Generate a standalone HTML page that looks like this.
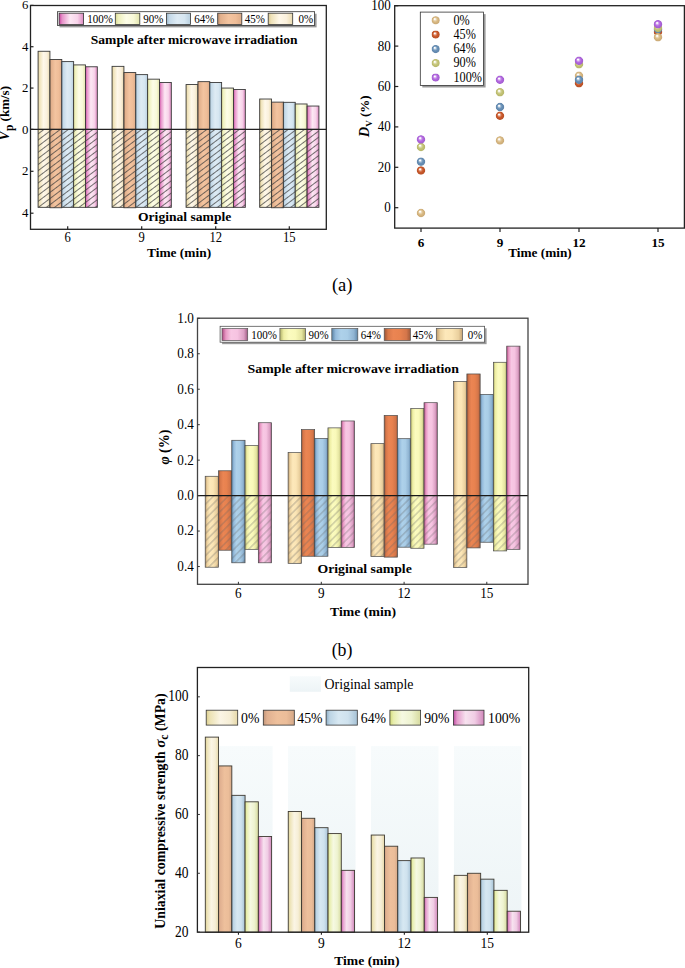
<!DOCTYPE html>
<html><head><meta charset="utf-8"><title>Figure</title>
<style>
html,body{margin:0;padding:0;background:#fff;}
body{width:685px;height:968px;overflow:hidden;}
svg{display:block;font-family:"Liberation Serif", serif;}
</style></head><body>
<svg width="685" height="968" viewBox="0 0 685 968">
<defs><linearGradient id="p0" x1="0" y1="0" x2="1" y2="0"><stop offset="0" stop-color="#dcc88e"/><stop offset="0.12" stop-color="#efe2b8"/><stop offset="0.45" stop-color="#fff8ea"/><stop offset="0.75" stop-color="#faf0dc"/><stop offset="1" stop-color="#eadaae"/></linearGradient>
<linearGradient id="p45" x1="0" y1="0" x2="1" y2="0"><stop offset="0" stop-color="#b88a68"/><stop offset="0.12" stop-color="#e2b08c"/><stop offset="0.45" stop-color="#f3c4a0"/><stop offset="0.75" stop-color="#efbd98"/><stop offset="1" stop-color="#dcab88"/></linearGradient>
<linearGradient id="p64" x1="0" y1="0" x2="1" y2="0"><stop offset="0" stop-color="#98b4c8"/><stop offset="0.12" stop-color="#c4d9e8"/><stop offset="0.45" stop-color="#deebf4"/><stop offset="0.75" stop-color="#d6e6f1"/><stop offset="1" stop-color="#b8cfdf"/></linearGradient>
<linearGradient id="p90" x1="0" y1="0" x2="1" y2="0"><stop offset="0" stop-color="#d6d890"/><stop offset="0.12" stop-color="#eef0bc"/><stop offset="0.45" stop-color="#fdfde8"/><stop offset="0.75" stop-color="#f8f9d8"/><stop offset="1" stop-color="#e2e4ac"/></linearGradient>
<linearGradient id="p100" x1="0" y1="0" x2="1" y2="0"><stop offset="0" stop-color="#c8409c"/><stop offset="0.12" stop-color="#e690c8"/><stop offset="0.45" stop-color="#fde8f4"/><stop offset="0.75" stop-color="#f8d4ea"/><stop offset="1" stop-color="#dc88c0"/></linearGradient>
<linearGradient id="b0" x1="0" y1="0" x2="1" y2="0"><stop offset="0" stop-color="#bc9868"/><stop offset="0.15" stop-color="#ecd2a0"/><stop offset="0.35" stop-color="#fde8ba"/><stop offset="0.6" stop-color="#fbe5b5"/><stop offset="0.85" stop-color="#ead09e"/><stop offset="1" stop-color="#c4a274"/></linearGradient>
<linearGradient id="b45" x1="0" y1="0" x2="1" y2="0"><stop offset="0" stop-color="#985438"/><stop offset="0.15" stop-color="#d8784a"/><stop offset="0.35" stop-color="#eb8553"/><stop offset="0.6" stop-color="#e8824f"/><stop offset="0.85" stop-color="#d4764a"/><stop offset="1" stop-color="#a05a3a"/></linearGradient>
<linearGradient id="b64" x1="0" y1="0" x2="1" y2="0"><stop offset="0" stop-color="#5c84a6"/><stop offset="0.15" stop-color="#94badb"/><stop offset="0.35" stop-color="#aed1ea"/><stop offset="0.6" stop-color="#a9cde7"/><stop offset="0.85" stop-color="#90b4d2"/><stop offset="1" stop-color="#6088aa"/></linearGradient>
<linearGradient id="b90" x1="0" y1="0" x2="1" y2="0"><stop offset="0" stop-color="#b0b068"/><stop offset="0.15" stop-color="#eeeea4"/><stop offset="0.35" stop-color="#fbfbbf"/><stop offset="0.6" stop-color="#f9f9b9"/><stop offset="0.85" stop-color="#e4e4a0"/><stop offset="1" stop-color="#aca866"/></linearGradient>
<linearGradient id="b100" x1="0" y1="0" x2="1" y2="0"><stop offset="0" stop-color="#ac4880"/><stop offset="0.15" stop-color="#e898c4"/><stop offset="0.35" stop-color="#f8c8e4"/><stop offset="0.6" stop-color="#f6c3e1"/><stop offset="0.85" stop-color="#dca0c4"/><stop offset="1" stop-color="#9e5a82"/></linearGradient>
<linearGradient id="c0" x1="0" y1="0" x2="1" y2="0"><stop offset="0" stop-color="#dccf8e"/><stop offset="0.12" stop-color="#ece2b4"/><stop offset="0.45" stop-color="#fbf5e5"/><stop offset="0.75" stop-color="#f6eed6"/><stop offset="1" stop-color="#e6d8a8"/></linearGradient>
<linearGradient id="c45" x1="0" y1="0" x2="1" y2="0"><stop offset="0" stop-color="#c09478"/><stop offset="0.12" stop-color="#e0b090"/><stop offset="0.45" stop-color="#eec09c"/><stop offset="0.75" stop-color="#ebbd99"/><stop offset="1" stop-color="#d4a888"/></linearGradient>
<linearGradient id="c64" x1="0" y1="0" x2="1" y2="0"><stop offset="0" stop-color="#8eaec6"/><stop offset="0.12" stop-color="#bcd4e4"/><stop offset="0.4" stop-color="#d7e8f2"/><stop offset="0.7" stop-color="#cfe2ee"/><stop offset="1" stop-color="#a6c2d6"/></linearGradient>
<linearGradient id="c90" x1="0" y1="0" x2="1" y2="0"><stop offset="0" stop-color="#d4dc7c"/><stop offset="0.12" stop-color="#e8eeae"/><stop offset="0.4" stop-color="#f6f9e2"/><stop offset="0.7" stop-color="#eef3d0"/><stop offset="1" stop-color="#d6da9e"/></linearGradient>
<linearGradient id="c100" x1="0" y1="0" x2="1" y2="0"><stop offset="0" stop-color="#bc48a0"/><stop offset="0.12" stop-color="#e49ccc"/><stop offset="0.4" stop-color="#f7e2ef"/><stop offset="0.7" stop-color="#f0cce4"/><stop offset="1" stop-color="#d086ba"/></linearGradient>
<radialGradient id="s0" cx="0.5" cy="0.5" r="0.5" fx="0.37" fy="0.32"><stop offset="0" stop-color="#ffffff"/><stop offset="0.12" stop-color="#ffffff"/><stop offset="0.3" stop-color="#ebdabc"/><stop offset="0.55" stop-color="#dbbc86"/><stop offset="0.9" stop-color="#ccab76"/><stop offset="1" stop-color="#c2a06b" stop-opacity="0.5"/></radialGradient>
<radialGradient id="s45" cx="0.5" cy="0.5" r="0.5" fx="0.37" fy="0.32"><stop offset="0" stop-color="#ffffff"/><stop offset="0.12" stop-color="#ffffff"/><stop offset="0.3" stop-color="#e3a48b"/><stop offset="0.55" stop-color="#cc5a2c"/><stop offset="0.9" stop-color="#ba5025"/><stop offset="1" stop-color="#ae4920" stop-opacity="0.5"/></radialGradient>
<radialGradient id="s64" cx="0.5" cy="0.5" r="0.5" fx="0.37" fy="0.32"><stop offset="0" stop-color="#ffffff"/><stop offset="0.12" stop-color="#ffffff"/><stop offset="0.3" stop-color="#adc3d8"/><stop offset="0.55" stop-color="#6a92b8"/><stop offset="0.9" stop-color="#5f85ab"/><stop offset="1" stop-color="#577da2" stop-opacity="0.5"/></radialGradient>
<radialGradient id="s90" cx="0.5" cy="0.5" r="0.5" fx="0.37" fy="0.32"><stop offset="0" stop-color="#ffffff"/><stop offset="0.12" stop-color="#ffffff"/><stop offset="0.3" stop-color="#e0e0b6"/><stop offset="0.55" stop-color="#c6c67a"/><stop offset="0.9" stop-color="#b8b86b"/><stop offset="1" stop-color="#afaf61" stop-opacity="0.5"/></radialGradient>
<radialGradient id="s100" cx="0.5" cy="0.5" r="0.5" fx="0.37" fy="0.32"><stop offset="0" stop-color="#ffffff"/><stop offset="0.12" stop-color="#ffffff"/><stop offset="0.3" stop-color="#d6adee"/><stop offset="0.55" stop-color="#b46ae0"/><stop offset="0.9" stop-color="#a45dd2"/><stop offset="1" stop-color="#9a55c8" stop-opacity="0.5"/></radialGradient>
<linearGradient id="obg" x1="0" y1="0" x2="0" y2="1"><stop offset="0" stop-color="#f7fbfc"/><stop offset="1" stop-color="#edf4f6"/></linearGradient>
<pattern id="hatchA" patternUnits="userSpaceOnUse" width="4.9" height="4.9" patternTransform="rotate(53)"><line x1="2.45" y1="0" x2="2.45" y2="4.9" stroke="#3a3a3a" stroke-width="0.7"/></pattern>
<pattern id="hatchB" patternUnits="userSpaceOnUse" width="5.2" height="5.2" patternTransform="rotate(45)"><line x1="2.6" y1="0" x2="2.6" y2="5.2" stroke="#626262" stroke-width="0.45"/></pattern>
<filter id="blur1" x="-10%" y="-10%" width="130%" height="140%"><feGaussianBlur stdDeviation="0.6"/></filter></defs>
<rect width="685" height="968" fill="#fff"/>
<rect x="38.08" y="51.27" width="11.85" height="78.13" fill="url(#p0)" stroke="#3a3a3a" stroke-width="0.9"/>
<rect x="38.08" y="129.4" width="11.85" height="77.93" fill="url(#p0)"/>
<rect x="38.08" y="129.4" width="11.85" height="77.93" fill="url(#hatchA)" stroke="#3a3a3a" stroke-width="0.9"/>
<rect x="49.93" y="59.54" width="11.85" height="69.86" fill="url(#p45)" stroke="#3a3a3a" stroke-width="0.9"/>
<rect x="49.93" y="129.4" width="11.85" height="78.34" fill="url(#p45)"/>
<rect x="49.93" y="129.4" width="11.85" height="78.34" fill="url(#hatchA)" stroke="#3a3a3a" stroke-width="0.9"/>
<rect x="61.78" y="61.6" width="11.85" height="67.8" fill="url(#p64)" stroke="#3a3a3a" stroke-width="0.9"/>
<rect x="61.78" y="129.4" width="11.85" height="77.93" fill="url(#p64)"/>
<rect x="61.78" y="129.4" width="11.85" height="77.93" fill="url(#hatchA)" stroke="#3a3a3a" stroke-width="0.9"/>
<rect x="73.62" y="64.91" width="11.85" height="64.49" fill="url(#p90)" stroke="#3a3a3a" stroke-width="0.9"/>
<rect x="73.62" y="129.4" width="11.85" height="77.93" fill="url(#p90)"/>
<rect x="73.62" y="129.4" width="11.85" height="77.93" fill="url(#hatchA)" stroke="#3a3a3a" stroke-width="0.9"/>
<rect x="85.47" y="66.77" width="11.85" height="62.63" fill="url(#p100)" stroke="#3a3a3a" stroke-width="0.9"/>
<rect x="85.47" y="129.4" width="11.85" height="77.93" fill="url(#p100)"/>
<rect x="85.47" y="129.4" width="11.85" height="77.93" fill="url(#hatchA)" stroke="#3a3a3a" stroke-width="0.9"/>
<rect x="112.07" y="66.36" width="11.85" height="63.04" fill="url(#p0)" stroke="#3a3a3a" stroke-width="0.9"/>
<rect x="112.07" y="129.4" width="11.85" height="77.93" fill="url(#p0)"/>
<rect x="112.07" y="129.4" width="11.85" height="77.93" fill="url(#hatchA)" stroke="#3a3a3a" stroke-width="0.9"/>
<rect x="123.92" y="72.56" width="11.85" height="56.84" fill="url(#p45)" stroke="#3a3a3a" stroke-width="0.9"/>
<rect x="123.92" y="129.4" width="11.85" height="78.34" fill="url(#p45)"/>
<rect x="123.92" y="129.4" width="11.85" height="78.34" fill="url(#hatchA)" stroke="#3a3a3a" stroke-width="0.9"/>
<rect x="135.77" y="74.62" width="11.85" height="54.78" fill="url(#p64)" stroke="#3a3a3a" stroke-width="0.9"/>
<rect x="135.77" y="129.4" width="11.85" height="77.93" fill="url(#p64)"/>
<rect x="135.77" y="129.4" width="11.85" height="77.93" fill="url(#hatchA)" stroke="#3a3a3a" stroke-width="0.9"/>
<rect x="147.62" y="79.17" width="11.85" height="50.23" fill="url(#p90)" stroke="#3a3a3a" stroke-width="0.9"/>
<rect x="147.62" y="129.4" width="11.85" height="77.93" fill="url(#p90)"/>
<rect x="147.62" y="129.4" width="11.85" height="77.93" fill="url(#hatchA)" stroke="#3a3a3a" stroke-width="0.9"/>
<rect x="159.47" y="82.48" width="11.85" height="46.92" fill="url(#p100)" stroke="#3a3a3a" stroke-width="0.9"/>
<rect x="159.47" y="129.4" width="11.85" height="77.93" fill="url(#p100)"/>
<rect x="159.47" y="129.4" width="11.85" height="77.93" fill="url(#hatchA)" stroke="#3a3a3a" stroke-width="0.9"/>
<rect x="186.07" y="84.55" width="11.85" height="44.85" fill="url(#p0)" stroke="#3a3a3a" stroke-width="0.9"/>
<rect x="186.07" y="129.4" width="11.85" height="77.93" fill="url(#p0)"/>
<rect x="186.07" y="129.4" width="11.85" height="77.93" fill="url(#hatchA)" stroke="#3a3a3a" stroke-width="0.9"/>
<rect x="197.92" y="81.65" width="11.85" height="47.75" fill="url(#p45)" stroke="#3a3a3a" stroke-width="0.9"/>
<rect x="197.92" y="129.4" width="11.85" height="78.34" fill="url(#p45)"/>
<rect x="197.92" y="129.4" width="11.85" height="78.34" fill="url(#hatchA)" stroke="#3a3a3a" stroke-width="0.9"/>
<rect x="209.77" y="82.48" width="11.85" height="46.92" fill="url(#p64)" stroke="#3a3a3a" stroke-width="0.9"/>
<rect x="209.77" y="129.4" width="11.85" height="77.93" fill="url(#p64)"/>
<rect x="209.77" y="129.4" width="11.85" height="77.93" fill="url(#hatchA)" stroke="#3a3a3a" stroke-width="0.9"/>
<rect x="221.62" y="88.06" width="11.85" height="41.34" fill="url(#p90)" stroke="#3a3a3a" stroke-width="0.9"/>
<rect x="221.62" y="129.4" width="11.85" height="77.93" fill="url(#p90)"/>
<rect x="221.62" y="129.4" width="11.85" height="77.93" fill="url(#hatchA)" stroke="#3a3a3a" stroke-width="0.9"/>
<rect x="233.47" y="89.51" width="11.85" height="39.89" fill="url(#p100)" stroke="#3a3a3a" stroke-width="0.9"/>
<rect x="233.47" y="129.4" width="11.85" height="77.93" fill="url(#p100)"/>
<rect x="233.47" y="129.4" width="11.85" height="77.93" fill="url(#hatchA)" stroke="#3a3a3a" stroke-width="0.9"/>
<rect x="259.68" y="99.02" width="11.85" height="30.38" fill="url(#p0)" stroke="#3a3a3a" stroke-width="0.9"/>
<rect x="259.68" y="129.4" width="11.85" height="77.93" fill="url(#p0)"/>
<rect x="259.68" y="129.4" width="11.85" height="77.93" fill="url(#hatchA)" stroke="#3a3a3a" stroke-width="0.9"/>
<rect x="271.53" y="102.12" width="11.85" height="27.28" fill="url(#p45)" stroke="#3a3a3a" stroke-width="0.9"/>
<rect x="271.53" y="129.4" width="11.85" height="78.34" fill="url(#p45)"/>
<rect x="271.53" y="129.4" width="11.85" height="78.34" fill="url(#hatchA)" stroke="#3a3a3a" stroke-width="0.9"/>
<rect x="283.38" y="102.32" width="11.85" height="27.08" fill="url(#p64)" stroke="#3a3a3a" stroke-width="0.9"/>
<rect x="283.38" y="129.4" width="11.85" height="77.93" fill="url(#p64)"/>
<rect x="283.38" y="129.4" width="11.85" height="77.93" fill="url(#hatchA)" stroke="#3a3a3a" stroke-width="0.9"/>
<rect x="295.23" y="103.98" width="11.85" height="25.42" fill="url(#p90)" stroke="#3a3a3a" stroke-width="0.9"/>
<rect x="295.23" y="129.4" width="11.85" height="77.93" fill="url(#p90)"/>
<rect x="295.23" y="129.4" width="11.85" height="77.93" fill="url(#hatchA)" stroke="#3a3a3a" stroke-width="0.9"/>
<rect x="307.07" y="106.04" width="11.85" height="23.36" fill="url(#p100)" stroke="#3a3a3a" stroke-width="0.9"/>
<rect x="307.07" y="129.4" width="11.85" height="77.93" fill="url(#p100)"/>
<rect x="307.07" y="129.4" width="11.85" height="77.93" fill="url(#hatchA)" stroke="#3a3a3a" stroke-width="0.9"/>
<line x1="30.5" y1="129.4" x2="326.3" y2="129.4" stroke="#222" stroke-width="1.2"/>
<rect x="30.5" y="5.5" width="295.8" height="223.8" fill="none" stroke="#222" stroke-width="1.3"/>
<line x1="30.5" y1="5.38" x2="33.5" y2="5.38" stroke="#222" stroke-width="1.2"/>
<text transform="translate(28.3,9.48) scale(1,1.04)" font-size="12.8" text-anchor="end">6</text>
<line x1="30.5" y1="46.72" x2="33.5" y2="46.72" stroke="#222" stroke-width="1.2"/>
<text transform="translate(28.3,50.82) scale(1,1.04)" font-size="12.8" text-anchor="end">4</text>
<line x1="30.5" y1="88.06" x2="33.5" y2="88.06" stroke="#222" stroke-width="1.2"/>
<text transform="translate(28.3,92.16) scale(1,1.04)" font-size="12.8" text-anchor="end">2</text>
<line x1="30.5" y1="129.4" x2="33.5" y2="129.4" stroke="#222" stroke-width="1.2"/>
<text transform="translate(28.3,133.5) scale(1,1.04)" font-size="12.8" text-anchor="end">0</text>
<line x1="30.5" y1="171.3" x2="33.5" y2="171.3" stroke="#222" stroke-width="1.2"/>
<text transform="translate(28.3,175.4) scale(1,1.04)" font-size="12.8" text-anchor="end">2</text>
<line x1="30.5" y1="213.2" x2="33.5" y2="213.2" stroke="#222" stroke-width="1.2"/>
<text transform="translate(28.3,217.3) scale(1,1.04)" font-size="12.8" text-anchor="end">4</text>
<line x1="67.7" y1="229.3" x2="67.7" y2="226.3" stroke="#222" stroke-width="1.2"/>
<text transform="translate(67.7,242.2) scale(1,1.12)" font-size="12.6" text-anchor="middle">6</text>
<line x1="141.7" y1="229.3" x2="141.7" y2="226.3" stroke="#222" stroke-width="1.2"/>
<text transform="translate(141.7,242.2) scale(1,1.12)" font-size="12.6" text-anchor="middle">9</text>
<line x1="215.7" y1="229.3" x2="215.7" y2="226.3" stroke="#222" stroke-width="1.2"/>
<text transform="translate(215.7,242.2) scale(1,1.12)" font-size="12.6" text-anchor="middle">12</text>
<line x1="289.3" y1="229.3" x2="289.3" y2="226.3" stroke="#222" stroke-width="1.2"/>
<text transform="translate(289.3,242.2) scale(1,1.12)" font-size="12.6" text-anchor="middle">15</text>
<rect x="59.5" y="13.7" width="257.1" height="13.7" fill="#9a9a9a" filter="url(#blur1)"/>
<rect x="57.5" y="11.7" width="257.1" height="13.7" fill="#ffffff" stroke="#333" stroke-width="0.8"/>
<rect x="59.1" y="13.2" width="24.5" height="11.2" fill="url(#p100)" stroke="#333" stroke-width="0.8"/>
<text transform="translate(87.3,22.6) scale(1,1.13)" font-size="11" text-anchor="start">100%</text>
<rect x="115.3" y="13.2" width="24.5" height="11.2" fill="url(#p90)" stroke="#333" stroke-width="0.8"/>
<text transform="translate(143.3,22.6) scale(1,1.13)" font-size="11" text-anchor="start">90%</text>
<rect x="166.4" y="13.2" width="24.1" height="11.2" fill="url(#p64)" stroke="#333" stroke-width="0.8"/>
<text transform="translate(194.2,22.6) scale(1,1.13)" font-size="11" text-anchor="start">64%</text>
<rect x="217.7" y="13.2" width="24.1" height="11.2" fill="url(#p45)" stroke="#333" stroke-width="0.8"/>
<text transform="translate(244.7,22.6) scale(1,1.13)" font-size="11" text-anchor="start">45%</text>
<rect x="268.2" y="13.2" width="24.5" height="11.2" fill="url(#p0)" stroke="#333" stroke-width="0.8"/>
<text transform="translate(298.4,22.6) scale(1,1.13)" font-size="11" text-anchor="start">0%</text>
<text x="90.8" y="43.5" font-size="12.6" text-anchor="start" font-weight="bold" textLength="206.8" lengthAdjust="spacingAndGlyphs">Sample after microwave irradiation</text>
<text x="138" y="220.8" font-size="12.6" text-anchor="start" font-weight="bold" textLength="93.3" lengthAdjust="spacingAndGlyphs">Original sample</text>
<text x="147" y="257" font-size="12.6" text-anchor="start" font-weight="bold" textLength="64.1" lengthAdjust="spacingAndGlyphs">Time (min)</text>
<text transform="translate(9.3,140.4) rotate(-90)" font-size="13" font-weight="bold"><tspan font-style="italic" font-size="14">V</tspan><tspan font-size="11.5" dy="3.6">p</tspan><tspan dy="-3.6"> (km/s)</tspan></text>
<circle cx="421" cy="212.95" r="4.25" fill="url(#s0)"/>
<circle cx="421" cy="170.53" r="4.25" fill="url(#s45)"/>
<circle cx="421" cy="161.64" r="4.25" fill="url(#s64)"/>
<circle cx="421" cy="146.9" r="4.25" fill="url(#s90)"/>
<circle cx="421" cy="139.42" r="4.25" fill="url(#s100)"/>
<circle cx="500" cy="140.43" r="4.25" fill="url(#s0)"/>
<circle cx="500" cy="107.1" r="4.25" fill="url(#s64)"/>
<circle cx="500" cy="115.79" r="4.25" fill="url(#s45)"/>
<circle cx="500" cy="92.16" r="4.25" fill="url(#s90)"/>
<circle cx="500" cy="79.83" r="4.25" fill="url(#s100)"/>
<circle cx="579" cy="75.79" r="4.25" fill="url(#s0)"/>
<circle cx="579" cy="83.27" r="4.25" fill="url(#s45)"/>
<circle cx="579" cy="79.83" r="4.25" fill="url(#s64)"/>
<circle cx="579" cy="64.28" r="4.25" fill="url(#s90)"/>
<circle cx="579" cy="60.85" r="4.25" fill="url(#s100)"/>
<circle cx="658" cy="31.96" r="4.25" fill="url(#s45)"/>
<circle cx="658" cy="29.33" r="4.25" fill="url(#s64)"/>
<circle cx="658" cy="27.92" r="4.25" fill="url(#s90)"/>
<circle cx="658" cy="37.21" r="4.25" fill="url(#s0)"/>
<circle cx="658" cy="24.28" r="4.25" fill="url(#s100)"/>
<rect x="394.7" y="5.7" width="289.7" height="222.4" fill="none" stroke="#222" stroke-width="1.3"/>
<line x1="394.7" y1="5.7" x2="398.3" y2="5.7" stroke="#222" stroke-width="1.2"/>
<text transform="translate(390.8,10.1) scale(1,1.15)" font-size="13" text-anchor="end">100</text>
<line x1="394.7" y1="46.1" x2="398.3" y2="46.1" stroke="#222" stroke-width="1.2"/>
<text transform="translate(390.8,50.5) scale(1,1.15)" font-size="13" text-anchor="end">80</text>
<line x1="394.7" y1="86.5" x2="398.3" y2="86.5" stroke="#222" stroke-width="1.2"/>
<text transform="translate(390.8,90.9) scale(1,1.15)" font-size="13" text-anchor="end">60</text>
<line x1="394.7" y1="126.9" x2="398.3" y2="126.9" stroke="#222" stroke-width="1.2"/>
<text transform="translate(390.8,131.3) scale(1,1.15)" font-size="13" text-anchor="end">40</text>
<line x1="394.7" y1="167.3" x2="398.3" y2="167.3" stroke="#222" stroke-width="1.2"/>
<text transform="translate(390.8,171.7) scale(1,1.15)" font-size="13" text-anchor="end">20</text>
<line x1="394.7" y1="207.7" x2="398.3" y2="207.7" stroke="#222" stroke-width="1.2"/>
<text transform="translate(390.8,212.1) scale(1,1.15)" font-size="13" text-anchor="end">0</text>
<line x1="421" y1="228.1" x2="421" y2="232.1" stroke="#222" stroke-width="1.2"/>
<text transform="translate(421,246.7) scale(1,1.02)" font-size="13.2" text-anchor="middle" font-weight="bold">6</text>
<line x1="500" y1="228.1" x2="500" y2="232.1" stroke="#222" stroke-width="1.2"/>
<text transform="translate(500,246.7) scale(1,1.02)" font-size="13.2" text-anchor="middle" font-weight="bold">9</text>
<line x1="579" y1="228.1" x2="579" y2="232.1" stroke="#222" stroke-width="1.2"/>
<text transform="translate(579,246.7) scale(1,1.02)" font-size="13.2" text-anchor="middle" font-weight="bold">12</text>
<line x1="658" y1="228.1" x2="658" y2="232.1" stroke="#222" stroke-width="1.2"/>
<text transform="translate(658,246.7) scale(1,1.02)" font-size="13.2" text-anchor="middle" font-weight="bold">15</text>
<text x="508.2" y="257.1" font-size="12.2" text-anchor="start" font-weight="bold" textLength="63.6" lengthAdjust="spacingAndGlyphs">Time (min)</text>
<rect x="422.3" y="14.1" width="63.3" height="73.4" fill="#9a9a9a" filter="url(#blur1)"/>
<rect x="420.3" y="12.1" width="63.3" height="73.4" fill="#ffffff" stroke="#333" stroke-width="0.8"/>
<circle cx="435.7" cy="20.3" r="4.1" fill="url(#s0)"/>
<text transform="translate(453.5,24.5) scale(1,1.13)" font-size="12.2" text-anchor="start">0%</text>
<circle cx="435.7" cy="34.6" r="4.1" fill="url(#s45)"/>
<text transform="translate(453.5,38.8) scale(1,1.13)" font-size="12.2" text-anchor="start">45%</text>
<circle cx="435.7" cy="49.1" r="4.1" fill="url(#s64)"/>
<text transform="translate(453.5,53.3) scale(1,1.13)" font-size="12.2" text-anchor="start">64%</text>
<circle cx="435.7" cy="63.1" r="4.1" fill="url(#s90)"/>
<text transform="translate(453.5,67.3) scale(1,1.13)" font-size="12.2" text-anchor="start">90%</text>
<circle cx="435.7" cy="77.6" r="4.1" fill="url(#s100)"/>
<text transform="translate(453.5,81.8) scale(1,1.13)" font-size="12.2" text-anchor="start">100%</text>
<text transform="translate(369,137.3) rotate(-90)" font-size="13" font-weight="bold"><tspan font-style="italic" font-size="14.5">D</tspan><tspan font-size="9" dy="2.5">V</tspan><tspan dy="-2.5"> (%)</tspan></text>
<rect x="205.2" y="476.27" width="13.28" height="19.33" fill="url(#b0)" stroke="#4a4a4a" stroke-width="0.7"/>
<rect x="205.2" y="495.6" width="13.28" height="71.63" fill="url(#b0)"/>
<rect x="205.2" y="495.6" width="13.28" height="71.63" fill="url(#hatchB)" stroke="#4a4a4a" stroke-width="0.7"/>
<rect x="218.48" y="470.78" width="13.28" height="24.82" fill="url(#b45)" stroke="#4a4a4a" stroke-width="0.7"/>
<rect x="218.48" y="495.6" width="13.28" height="54.61" fill="url(#b45)"/>
<rect x="218.48" y="495.6" width="13.28" height="54.61" fill="url(#hatchB)" stroke="#4a4a4a" stroke-width="0.7"/>
<rect x="231.76" y="440.28" width="13.28" height="55.32" fill="url(#b64)" stroke="#4a4a4a" stroke-width="0.7"/>
<rect x="231.76" y="495.6" width="13.28" height="67.2" fill="url(#b64)"/>
<rect x="231.76" y="495.6" width="13.28" height="67.2" fill="url(#hatchB)" stroke="#4a4a4a" stroke-width="0.7"/>
<rect x="245.04" y="445.6" width="13.28" height="50" fill="url(#b90)" stroke="#4a4a4a" stroke-width="0.7"/>
<rect x="245.04" y="495.6" width="13.28" height="53.72" fill="url(#b90)"/>
<rect x="245.04" y="495.6" width="13.28" height="53.72" fill="url(#hatchB)" stroke="#4a4a4a" stroke-width="0.7"/>
<rect x="258.32" y="422.73" width="13.28" height="72.87" fill="url(#b100)" stroke="#4a4a4a" stroke-width="0.7"/>
<rect x="258.32" y="495.6" width="13.28" height="67.2" fill="url(#b100)"/>
<rect x="258.32" y="495.6" width="13.28" height="67.2" fill="url(#hatchB)" stroke="#4a4a4a" stroke-width="0.7"/>
<rect x="288.1" y="452.52" width="13.28" height="43.08" fill="url(#b0)" stroke="#4a4a4a" stroke-width="0.7"/>
<rect x="288.1" y="495.6" width="13.28" height="67.73" fill="url(#b0)"/>
<rect x="288.1" y="495.6" width="13.28" height="67.73" fill="url(#hatchB)" stroke="#4a4a4a" stroke-width="0.7"/>
<rect x="301.38" y="429.64" width="13.28" height="65.96" fill="url(#b45)" stroke="#4a4a4a" stroke-width="0.7"/>
<rect x="301.38" y="495.6" width="13.28" height="60.64" fill="url(#b45)"/>
<rect x="301.38" y="495.6" width="13.28" height="60.64" fill="url(#hatchB)" stroke="#4a4a4a" stroke-width="0.7"/>
<rect x="314.66" y="438.51" width="13.28" height="57.09" fill="url(#b64)" stroke="#4a4a4a" stroke-width="0.7"/>
<rect x="314.66" y="495.6" width="13.28" height="60.64" fill="url(#b64)"/>
<rect x="314.66" y="495.6" width="13.28" height="60.64" fill="url(#hatchB)" stroke="#4a4a4a" stroke-width="0.7"/>
<rect x="327.94" y="427.87" width="13.28" height="67.73" fill="url(#b90)" stroke="#4a4a4a" stroke-width="0.7"/>
<rect x="327.94" y="495.6" width="13.28" height="51.95" fill="url(#b90)"/>
<rect x="327.94" y="495.6" width="13.28" height="51.95" fill="url(#hatchB)" stroke="#4a4a4a" stroke-width="0.7"/>
<rect x="341.22" y="420.96" width="13.28" height="74.64" fill="url(#b100)" stroke="#4a4a4a" stroke-width="0.7"/>
<rect x="341.22" y="495.6" width="13.28" height="51.95" fill="url(#b100)"/>
<rect x="341.22" y="495.6" width="13.28" height="51.95" fill="url(#hatchB)" stroke="#4a4a4a" stroke-width="0.7"/>
<rect x="370.9" y="443.65" width="13.28" height="51.95" fill="url(#b0)" stroke="#4a4a4a" stroke-width="0.7"/>
<rect x="370.9" y="495.6" width="13.28" height="60.99" fill="url(#b0)"/>
<rect x="370.9" y="495.6" width="13.28" height="60.99" fill="url(#hatchB)" stroke="#4a4a4a" stroke-width="0.7"/>
<rect x="384.18" y="415.46" width="13.28" height="80.14" fill="url(#b45)" stroke="#4a4a4a" stroke-width="0.7"/>
<rect x="384.18" y="495.6" width="13.28" height="61.52" fill="url(#b45)"/>
<rect x="384.18" y="495.6" width="13.28" height="61.52" fill="url(#hatchB)" stroke="#4a4a4a" stroke-width="0.7"/>
<rect x="397.46" y="438.69" width="13.28" height="56.91" fill="url(#b64)" stroke="#4a4a4a" stroke-width="0.7"/>
<rect x="397.46" y="495.6" width="13.28" height="51.59" fill="url(#b64)"/>
<rect x="397.46" y="495.6" width="13.28" height="51.59" fill="url(#hatchB)" stroke="#4a4a4a" stroke-width="0.7"/>
<rect x="410.74" y="408.55" width="13.28" height="87.05" fill="url(#b90)" stroke="#4a4a4a" stroke-width="0.7"/>
<rect x="410.74" y="495.6" width="13.28" height="52.66" fill="url(#b90)"/>
<rect x="410.74" y="495.6" width="13.28" height="52.66" fill="url(#hatchB)" stroke="#4a4a4a" stroke-width="0.7"/>
<rect x="424.02" y="402.69" width="13.28" height="92.91" fill="url(#b100)" stroke="#4a4a4a" stroke-width="0.7"/>
<rect x="424.02" y="495.6" width="13.28" height="48.58" fill="url(#b100)"/>
<rect x="424.02" y="495.6" width="13.28" height="48.58" fill="url(#hatchB)" stroke="#4a4a4a" stroke-width="0.7"/>
<rect x="453.6" y="381.6" width="13.28" height="114" fill="url(#b0)" stroke="#4a4a4a" stroke-width="0.7"/>
<rect x="453.6" y="495.6" width="13.28" height="71.81" fill="url(#b0)"/>
<rect x="453.6" y="495.6" width="13.28" height="71.81" fill="url(#hatchB)" stroke="#4a4a4a" stroke-width="0.7"/>
<rect x="466.88" y="373.97" width="13.28" height="121.63" fill="url(#b45)" stroke="#4a4a4a" stroke-width="0.7"/>
<rect x="466.88" y="495.6" width="13.28" height="52.3" fill="url(#b45)"/>
<rect x="466.88" y="495.6" width="13.28" height="52.3" fill="url(#hatchB)" stroke="#4a4a4a" stroke-width="0.7"/>
<rect x="480.16" y="394.36" width="13.28" height="101.24" fill="url(#b64)" stroke="#4a4a4a" stroke-width="0.7"/>
<rect x="480.16" y="495.6" width="13.28" height="46.63" fill="url(#b64)"/>
<rect x="480.16" y="495.6" width="13.28" height="46.63" fill="url(#hatchB)" stroke="#4a4a4a" stroke-width="0.7"/>
<rect x="493.44" y="362.27" width="13.28" height="133.33" fill="url(#b90)" stroke="#4a4a4a" stroke-width="0.7"/>
<rect x="493.44" y="495.6" width="13.28" height="55.32" fill="url(#b90)"/>
<rect x="493.44" y="495.6" width="13.28" height="55.32" fill="url(#hatchB)" stroke="#4a4a4a" stroke-width="0.7"/>
<rect x="506.72" y="346.14" width="13.28" height="149.46" fill="url(#b100)" stroke="#4a4a4a" stroke-width="0.7"/>
<rect x="506.72" y="495.6" width="13.28" height="53.72" fill="url(#b100)"/>
<rect x="506.72" y="495.6" width="13.28" height="53.72" fill="url(#hatchB)" stroke="#4a4a4a" stroke-width="0.7"/>
<line x1="197.5" y1="495.6" x2="528" y2="495.6" stroke="#1a1a1a" stroke-width="1.1"/>
<rect x="197.5" y="318.2" width="330.5" height="266.1" fill="none" stroke="#444" stroke-width="1.3"/>
<line x1="197.5" y1="318.3" x2="199.8" y2="318.3" stroke="#333" stroke-width="1"/>
<text transform="translate(193.8,322.7) scale(1,1.17)" font-size="13.2" text-anchor="end">1.0</text>
<line x1="197.5" y1="353.76" x2="199.8" y2="353.76" stroke="#333" stroke-width="1"/>
<text transform="translate(193.8,358.16) scale(1,1.17)" font-size="13.2" text-anchor="end">0.8</text>
<line x1="197.5" y1="389.22" x2="199.8" y2="389.22" stroke="#333" stroke-width="1"/>
<text transform="translate(193.8,393.62) scale(1,1.17)" font-size="13.2" text-anchor="end">0.6</text>
<line x1="197.5" y1="424.68" x2="199.8" y2="424.68" stroke="#333" stroke-width="1"/>
<text transform="translate(193.8,429.08) scale(1,1.17)" font-size="13.2" text-anchor="end">0.4</text>
<line x1="197.5" y1="460.14" x2="199.8" y2="460.14" stroke="#333" stroke-width="1"/>
<text transform="translate(193.8,464.54) scale(1,1.17)" font-size="13.2" text-anchor="end">0.2</text>
<line x1="197.5" y1="495.6" x2="199.8" y2="495.6" stroke="#333" stroke-width="1"/>
<text transform="translate(193.8,500) scale(1,1.17)" font-size="13.2" text-anchor="end">0.0</text>
<line x1="197.5" y1="531.06" x2="199.8" y2="531.06" stroke="#333" stroke-width="1"/>
<text transform="translate(193.8,535.46) scale(1,1.17)" font-size="13.2" text-anchor="end">0.2</text>
<line x1="197.5" y1="566.52" x2="199.8" y2="566.52" stroke="#333" stroke-width="1"/>
<text transform="translate(193.8,570.92) scale(1,1.17)" font-size="13.2" text-anchor="end">0.4</text>
<line x1="238.4" y1="584.3" x2="238.4" y2="581.8" stroke="#333" stroke-width="1"/>
<text transform="translate(238.4,598) scale(1,1.15)" font-size="13.2" text-anchor="middle">6</text>
<line x1="321.3" y1="584.3" x2="321.3" y2="581.8" stroke="#333" stroke-width="1"/>
<text transform="translate(321.3,598) scale(1,1.15)" font-size="13.2" text-anchor="middle">9</text>
<line x1="404.1" y1="584.3" x2="404.1" y2="581.8" stroke="#333" stroke-width="1"/>
<text transform="translate(404.1,598) scale(1,1.15)" font-size="13.2" text-anchor="middle">12</text>
<line x1="486.8" y1="584.3" x2="486.8" y2="581.8" stroke="#333" stroke-width="1"/>
<text transform="translate(486.8,598) scale(1,1.15)" font-size="13.2" text-anchor="middle">15</text>
<rect x="222.1" y="328.3" width="264.5" height="15.9" fill="#9a9a9a" filter="url(#blur1)"/>
<rect x="220.1" y="326.3" width="264.5" height="15.9" fill="#ffffff" stroke="#555" stroke-width="0.8"/>
<rect x="222" y="328.6" width="25.7" height="12" fill="url(#b100)" stroke="#555" stroke-width="0.7"/>
<text transform="translate(251.2,338.6) scale(1,1.13)" font-size="11" text-anchor="start">100%</text>
<rect x="279.9" y="328.6" width="25.7" height="12" fill="url(#b90)" stroke="#555" stroke-width="0.7"/>
<text transform="translate(308.4,338.6) scale(1,1.13)" font-size="11" text-anchor="start">90%</text>
<rect x="331.8" y="328.6" width="26" height="12" fill="url(#b64)" stroke="#555" stroke-width="0.7"/>
<text transform="translate(360.8,338.6) scale(1,1.13)" font-size="11" text-anchor="start">64%</text>
<rect x="384.2" y="328.6" width="26.2" height="12" fill="url(#b45)" stroke="#555" stroke-width="0.7"/>
<text transform="translate(412.7,338.6) scale(1,1.13)" font-size="11" text-anchor="start">45%</text>
<rect x="436.3" y="328.6" width="26.2" height="12" fill="url(#b0)" stroke="#555" stroke-width="0.7"/>
<text transform="translate(467.8,338.6) scale(1,1.13)" font-size="11" text-anchor="start">0%</text>
<text x="247.6" y="372.8" font-size="13" text-anchor="start" font-weight="bold" textLength="211.4" lengthAdjust="spacingAndGlyphs">Sample after microwave irradiation</text>
<text x="317.5" y="573" font-size="12.6" text-anchor="start" font-weight="bold" textLength="94.3" lengthAdjust="spacingAndGlyphs">Original sample</text>
<text x="330.1" y="616.4" font-size="12.8" text-anchor="start" font-weight="bold" textLength="65.9" lengthAdjust="spacingAndGlyphs">Time (min)</text>
<text transform="translate(168.6,464.6) rotate(-90)" font-size="14" font-weight="bold"><tspan font-style="italic">&#966;</tspan><tspan> (%)</tspan></text>
<text x="331.7" y="656.3" font-size="18" text-anchor="start" textLength="20.8" lengthAdjust="spacingAndGlyphs">(b)</text>
<text x="331.9" y="291.1" font-size="18" text-anchor="start" textLength="20.6" lengthAdjust="spacingAndGlyphs">(a)</text>
<rect x="205.1" y="746.1" width="67.5" height="186.1" fill="url(#obg)"/>
<rect x="288.05" y="746.1" width="67.5" height="186.1" fill="url(#obg)"/>
<rect x="371" y="746.1" width="67.5" height="186.1" fill="url(#obg)"/>
<rect x="453.95" y="746.1" width="67.5" height="186.1" fill="url(#obg)"/>
<rect x="205.3" y="737.11" width="13.26" height="195.09" fill="url(#c0)" stroke="#3e3a32" stroke-width="0.9"/>
<rect x="218.56" y="765.93" width="13.26" height="166.27" fill="url(#c45)" stroke="#3e3a32" stroke-width="0.9"/>
<rect x="231.82" y="795.34" width="13.26" height="136.86" fill="url(#c64)" stroke="#3e3a32" stroke-width="0.9"/>
<rect x="245.08" y="801.81" width="13.26" height="130.39" fill="url(#c90)" stroke="#3e3a32" stroke-width="0.9"/>
<rect x="258.34" y="836.52" width="13.26" height="95.68" fill="url(#c100)" stroke="#3e3a32" stroke-width="0.9"/>
<rect x="288.25" y="811.52" width="13.26" height="120.68" fill="url(#c0)" stroke="#3e3a32" stroke-width="0.9"/>
<rect x="301.51" y="818.28" width="13.26" height="113.92" fill="url(#c45)" stroke="#3e3a32" stroke-width="0.9"/>
<rect x="314.77" y="827.69" width="13.26" height="104.51" fill="url(#c64)" stroke="#3e3a32" stroke-width="0.9"/>
<rect x="328.03" y="833.58" width="13.26" height="98.62" fill="url(#c90)" stroke="#3e3a32" stroke-width="0.9"/>
<rect x="341.29" y="870.34" width="13.26" height="61.86" fill="url(#c100)" stroke="#3e3a32" stroke-width="0.9"/>
<rect x="371.2" y="835.05" width="13.26" height="97.15" fill="url(#c0)" stroke="#3e3a32" stroke-width="0.9"/>
<rect x="384.46" y="846.22" width="13.26" height="85.98" fill="url(#c45)" stroke="#3e3a32" stroke-width="0.9"/>
<rect x="397.72" y="860.63" width="13.26" height="71.57" fill="url(#c64)" stroke="#3e3a32" stroke-width="0.9"/>
<rect x="410.98" y="857.99" width="13.26" height="74.21" fill="url(#c90)" stroke="#3e3a32" stroke-width="0.9"/>
<rect x="424.24" y="897.4" width="13.26" height="34.8" fill="url(#c100)" stroke="#3e3a32" stroke-width="0.9"/>
<rect x="454.15" y="875.34" width="13.26" height="56.86" fill="url(#c0)" stroke="#3e3a32" stroke-width="0.9"/>
<rect x="467.41" y="873.28" width="13.26" height="58.92" fill="url(#c45)" stroke="#3e3a32" stroke-width="0.9"/>
<rect x="480.67" y="879.16" width="13.26" height="53.04" fill="url(#c64)" stroke="#3e3a32" stroke-width="0.9"/>
<rect x="493.93" y="890.34" width="13.26" height="41.86" fill="url(#c90)" stroke="#3e3a32" stroke-width="0.9"/>
<rect x="507.19" y="911.22" width="13.26" height="20.98" fill="url(#c100)" stroke="#3e3a32" stroke-width="0.9"/>
<rect x="197.4" y="667.5" width="331.3" height="264.7" fill="none" stroke="#222" stroke-width="1.3"/>
<line x1="197.4" y1="696.82" x2="199.9" y2="696.82" stroke="#333" stroke-width="1"/>
<text transform="translate(188.4,701.22) scale(1,1.16)" font-size="13.5" text-anchor="end">100</text>
<line x1="197.4" y1="755.64" x2="199.9" y2="755.64" stroke="#333" stroke-width="1"/>
<text transform="translate(188.4,760.04) scale(1,1.16)" font-size="13.5" text-anchor="end">80</text>
<line x1="197.4" y1="814.46" x2="199.9" y2="814.46" stroke="#333" stroke-width="1"/>
<text transform="translate(188.4,818.86) scale(1,1.16)" font-size="13.5" text-anchor="end">60</text>
<line x1="197.4" y1="873.28" x2="199.9" y2="873.28" stroke="#333" stroke-width="1"/>
<text transform="translate(188.4,877.68) scale(1,1.16)" font-size="13.5" text-anchor="end">40</text>
<line x1="197.4" y1="932.1" x2="199.9" y2="932.1" stroke="#333" stroke-width="1"/>
<text transform="translate(188.4,936.5) scale(1,1.16)" font-size="13.5" text-anchor="end">20</text>
<line x1="238.45" y1="932.2" x2="238.45" y2="934.8" stroke="#222" stroke-width="1.1"/>
<text transform="translate(238.45,947.8) scale(1,1.14)" font-size="13.5" text-anchor="middle">6</text>
<line x1="321.4" y1="932.2" x2="321.4" y2="934.8" stroke="#222" stroke-width="1.1"/>
<text transform="translate(321.4,947.8) scale(1,1.14)" font-size="13.5" text-anchor="middle">9</text>
<line x1="404.35" y1="932.2" x2="404.35" y2="934.8" stroke="#222" stroke-width="1.1"/>
<text transform="translate(404.35,947.8) scale(1,1.14)" font-size="13.5" text-anchor="middle">12</text>
<line x1="487.3" y1="932.2" x2="487.3" y2="934.8" stroke="#222" stroke-width="1.1"/>
<text transform="translate(487.3,947.8) scale(1,1.14)" font-size="13.5" text-anchor="middle">15</text>
<rect x="289.8" y="676.2" width="31.1" height="15.6" fill="url(#obg)"/>
<text x="324.6" y="688.6" font-size="14.3" text-anchor="start" textLength="88.9" lengthAdjust="spacingAndGlyphs">Original sample</text>
<rect x="206.2" y="710.2" width="31.5" height="14.9" fill="url(#c0)" stroke="#333" stroke-width="0.8"/>
<text transform="translate(241,722.6) scale(1,1.1)" font-size="13.8" text-anchor="start">0%</text>
<rect x="263.3" y="710.2" width="31" height="14.9" fill="url(#c45)" stroke="#333" stroke-width="0.8"/>
<text transform="translate(297.3,722.6) scale(1,1.1)" font-size="13.8" text-anchor="start">45%</text>
<rect x="326.1" y="710.2" width="31.2" height="14.9" fill="url(#c64)" stroke="#333" stroke-width="0.8"/>
<text transform="translate(360.8,722.6) scale(1,1.1)" font-size="13.8" text-anchor="start">64%</text>
<rect x="389.9" y="710.2" width="30.7" height="14.9" fill="url(#c90)" stroke="#333" stroke-width="0.8"/>
<text transform="translate(424.2,722.6) scale(1,1.1)" font-size="13.8" text-anchor="start">90%</text>
<rect x="453.4" y="710.2" width="30.6" height="14.9" fill="url(#c100)" stroke="#333" stroke-width="0.8"/>
<text transform="translate(488,722.6) scale(1,1.1)" font-size="13.8" text-anchor="start">100%</text>
<text x="334.2" y="965" font-size="13" text-anchor="start" font-weight="bold" textLength="65.3" lengthAdjust="spacingAndGlyphs">Time (min)</text>
<text transform="translate(164.6,928.7) rotate(-90)" font-size="13.6" font-weight="bold" textLength="235.3" lengthAdjust="spacingAndGlyphs">Uniaxial compressive strength <tspan font-style="italic" font-size="14.8">&#963;</tspan><tspan font-size="11.5" dy="3">c</tspan><tspan dy="-3"> (MPa)</tspan></text>
</svg>
</body></html>
